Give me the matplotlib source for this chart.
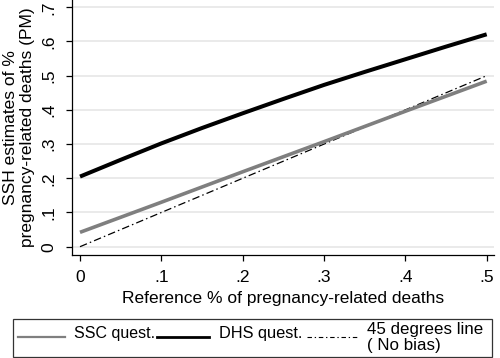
import matplotlib
matplotlib.use("Agg")
import matplotlib.pyplot as plt
from matplotlib.lines import Line2D
from matplotlib.patches import Rectangle

plt.rcParams['font.family'] = ['Liberation Sans', 'DejaVu Sans']

# Data
x_ref = [0.0, 0.05, 0.10, 0.15, 0.20, 0.25, 0.30, 0.35, 0.40, 0.45, 0.50]
dhs = [0.205, 0.254, 0.302, 0.347, 0.390, 0.432, 0.473, 0.511, 0.548, 0.585, 0.621]
x_ssc = [0.0, 0.1, 0.2, 0.3, 0.4, 0.5]
ssc = [0.042, 0.130, 0.219, 0.307, 0.396, 0.484]
x_45 = [0.0, 0.5]
line45 = [0.0, 0.5]

xticks = [0, 0.1, 0.2, 0.3, 0.4, 0.5]
xticklabels = ["0", ".1", ".2", ".3", ".4", ".5"]
yticks = [0, 0.1, 0.2, 0.3, 0.4, 0.5, 0.6, 0.7]
yticklabels = ["0", ".1", ".2", ".3", ".4", ".5", ".6", ".7"]

W, H = 500, 358
fig = plt.figure(figsize=(W / 100, H / 100), dpi=100)

def fx(px):
    return px / W

def fy(py):
    return 1 - py / H

ax = fig.add_axes([fx(72), fy(255), (494 - 72) / W, 255 / H])
ax.set_xlim(-0.00984, 0.509)
ax.set_ylim(-0.0243, 0.7213)

for s in ['top', 'right']:
    ax.spines[s].set_visible(False)
for s in ['left', 'bottom']:
    ax.spines[s].set_linewidth(0.9)
    ax.spines[s].set_color('black')

ax.set_yticks(yticks)
ax.set_yticklabels(yticklabels, rotation=90, va='center')
ax.set_xticks(xticks)
ax.set_xticklabels(xticklabels)
ax.tick_params(axis='both', length=4, width=0.9, labelsize=12.5, pad=7)
ax.grid(axis='y', color='#e6e6e6', linewidth=1.2)
ax.set_axisbelow(True)

ax.plot(x_45, line45, color='black', lw=0.9, dashes=(6, 2.5, 1.2, 2.5))
ax.plot(x_ssc, ssc, color='#7f7f7f', lw=2.6, solid_capstyle='butt')
ax.plot(x_ref, dhs, color='black', lw=2.9, solid_capstyle='butt')

ax.set_xlabel("Reference % of pregnancy-related deaths", fontsize=12.5, labelpad=4)
ax.set_ylabel("SSH estimates of %\npregnancy-related deaths (PM)", fontsize=12.5,
              labelpad=5, linespacing=1.12)

# Legend (drawn in figure pixel coordinates)
fig.add_artist(Rectangle((fx(13), fy(357)), (492 - 13) / W, (357 - 318.5) / H,
                         fill=False, edgecolor='#333333', lw=0.9,
                         transform=fig.transFigure))
ly = fy(336.5)
fig.add_artist(Line2D([fx(18), fx(65)], [ly, ly], color='#7f7f7f', lw=1.6,
                      transform=fig.transFigure))
fig.text(fx(74), fy(338), "SSC quest.", fontsize=11.5, va='baseline', ha='left')
fig.add_artist(Line2D([fx(157), fx(209)], [ly, ly], color='black', lw=2.0,
                      transform=fig.transFigure))
fig.text(fx(219), fy(338), "DHS quest.", fontsize=11.8, va='baseline', ha='left')
fig.add_artist(Line2D([fx(307), fx(358)], [ly, ly], color='black', lw=0.8,
                      dashes=(4, 2.5, 1.2, 2.5), transform=fig.transFigure))
fig.text(fx(367), fy(334), "45 degrees line", fontsize=12.2, va='baseline', ha='left')
fig.text(fx(367), fy(350), "( No bias)", fontsize=12.2, va='baseline', ha='left')

fig.savefig("out.png", dpi=100, facecolor='white')
